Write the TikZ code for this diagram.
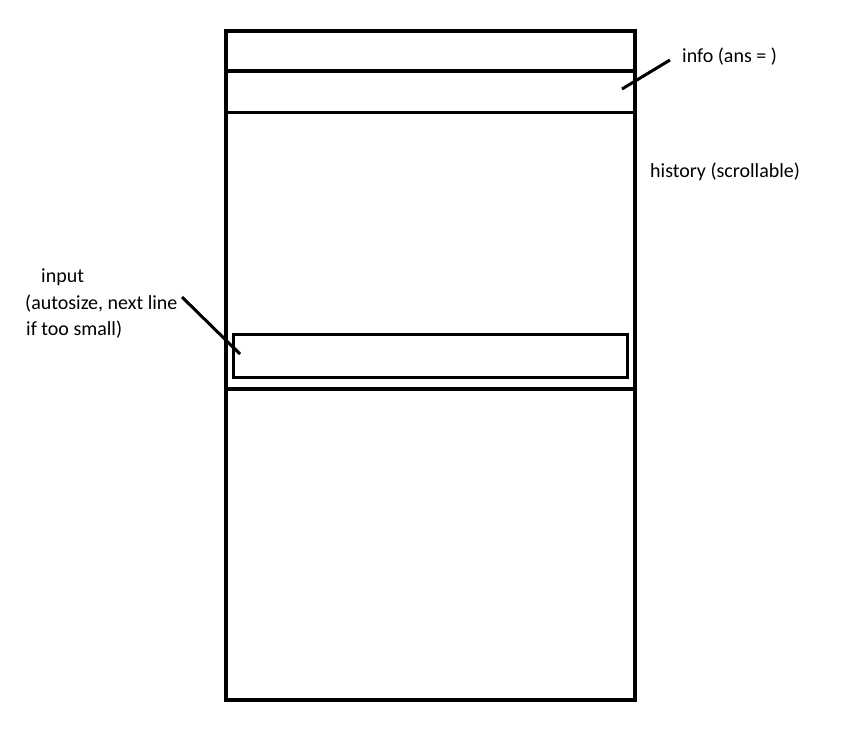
\documentclass[tikz,border=0pt]{standalone}
\usepackage{fontspec}
\setmainfont{Carlito}
\begin{document}
\begin{tikzpicture}[x=1pt,y=-1pt,
  thickline/.style={line width=4.5pt},
  thinline/.style={line width=3pt},
  lbl/.style={inner sep=0pt,anchor=base west,font=\fontsize{20}{24}\selectfont}]
\useasboundingbox (0,0) rectangle (842,737);
% frame
\draw[thickline] (226,31) rectangle (635,700);
\draw[thickline] (226,71) -- (635,71);
\draw[thinline] (226,112) -- (635,112);
\draw[thickline] (226,389) -- (635,389);
\node[draw,thinline,minimum width=394pt,minimum height=43pt,inner sep=0pt] (inp) at (430,355.5) {};
% labels
\node[lbl] (info) at (682,62) {info (ans = )};
\node[lbl] (hist) at (650,177) {history (scrollable)};
\node[lbl] (in1) at (41,282) {input};
\node[lbl] (in2) at (25,309) {(autosize, next line};
\node[lbl] (in3) at (26,335) {if too small)};
% pointers
\coordinate (infoS) at (670,60);
\coordinate (infoE) at (622,89);
\coordinate (inS) at (182,297);
\coordinate (inE) at (240,354);
\draw[thinline] (infoS) -- (infoE);
\draw[thinline] (inS) -- (inE);
\end{tikzpicture}
\end{document}
